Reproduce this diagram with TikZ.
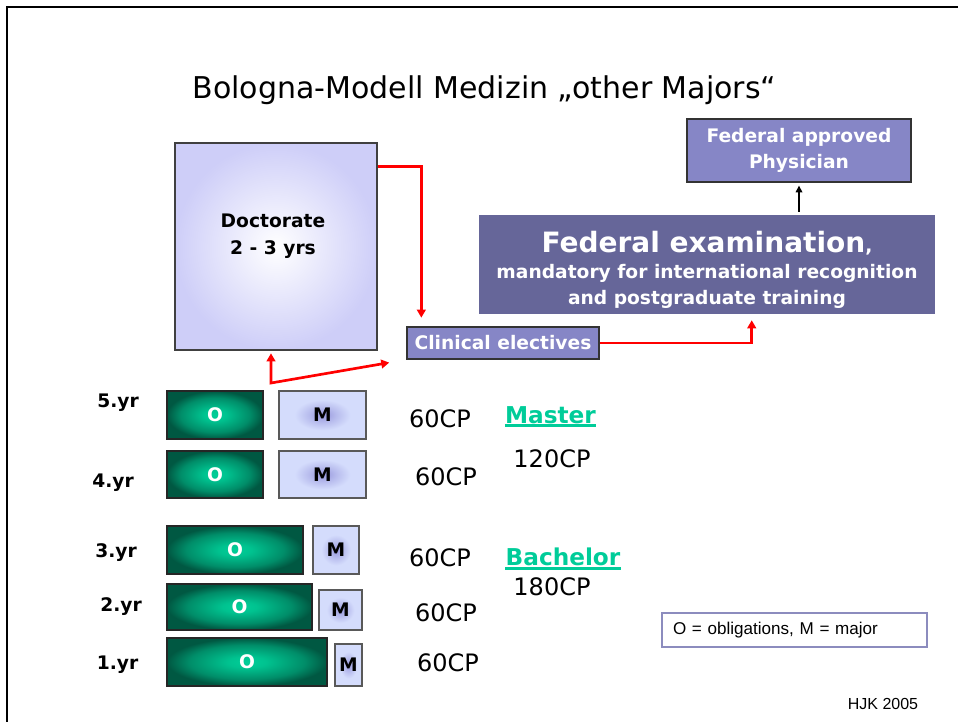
\documentclass[tikz,border=0pt]{standalone}
\usepackage{fontspec}
\setmainfont{DejaVu Sans}
\newfontfamily\arialfont{Liberation Sans}
\usetikzlibrary{arrows.meta, positioning, calc}
\newcommand{\pxl}{0.75pt}

\definecolor{lavbox}{RGB}{134,134,198}
\definecolor{exambox}{RGB}{102,102,153}
\definecolor{doclav}{RGB}{206,206,248}
\definecolor{odark}{RGB}{0,88,66}
\definecolor{olight}{RGB}{0,206,152}
\definecolor{mlight}{RGB}{212,220,252}
\definecolor{mdark}{RGB}{150,150,220}
\definecolor{bagreen}{RGB}{0,204,153}
\definecolor{legline}{RGB}{140,140,190}
\pgfdeclareradialshading{mshade}{\pgfpoint{0bp}{0bp}}{color(0bp)=(mdark); color(8bp)=(mdark!45!mlight); color(16bp)=(mlight); color(50bp)=(mlight)}
\pgfdeclareradialshading{oshade}{\pgfpoint{0bp}{0bp}}{color(0bp)=(olight); color(6bp)=(olight!90!odark); color(18bp)=(olight!45!odark); color(25bp)=(odark); color(50bp)=(odark)}

\begin{document}
\begin{tikzpicture}[x=0.75pt, y=-0.75pt,
        lavbx/.style={rectangle, draw=black!80, line width=1pt, fill=lavbox, text=white, align=center, font=\fontsize{14}{20}\selectfont\bfseries},
        obox/.style={rectangle, draw=black!85, line width=0.8pt, shade, shading=oshade, text=white, font=\fontsize{14}{16}\selectfont\bfseries},
        mbox/.style={rectangle, draw=black!65, line width=0.8pt, shade, shading=mshade, font=\fontsize{14}{16}\selectfont\bfseries},
        yr/.style={font=\fontsize{14}{16}\selectfont\bfseries},
        cp/.style={font=\fontsize{18}{20}\selectfont},
        degtxt/.style={inner sep=0pt, text=bagreen, font=\fontsize{17.4}{20}\selectfont\bfseries},
        redarr/.style={draw=red, line width=2pt, -{Triangle[length=6pt, width=6.5pt]}}]
        \useasboundingbox (0,0) rectangle (958,722);

        % Rahmen und Titel
        \draw[line width=1.9pt] (7,722) -- (7,7) -- (958,7);
        \node[font=\fontsize{22.5}{26}\selectfont] (titel) at (484.5,90) {Bologna-Modell Medizin „other Majors“};

        % Doktorat
        \node[rectangle, draw=black!75, line width=1pt, inner color=white, outer color=doclav,
              minimum width=202*\pxl, minimum height=207*\pxl] (doc) at (276,246.5) {};
        \node[align=center, font=\fontsize{14}{20}\selectfont\bfseries] (doctxt) at (273,236) {Doctorate\\2 - 3 yrs};

        % Staatsexamen, Arzt, Wahlfach
        \node[lavbx, minimum width=224*\pxl, minimum height=63*\pxl] (appr) at (799,150.5) {Federal approved\\Physician};
        \node[rectangle, fill=exambox, minimum width=456*\pxl, minimum height=99*\pxl] (exam) at (707,264.5) {};
        \node[align=center, text=white, font=\fontsize{14}{19.5}\selectfont\bfseries] (examtxt) at (707,270)
            {{\fontsize{21}{26}\selectfont Federal examination},\\mandatory for international recognition\\and postgraduate training};
        \node[lavbx, minimum width=192*\pxl, minimum height=32*\pxl, inner sep=0pt] (clin) at (503,343) {Clinical electives};

        % Jahre
        \node[yr] (y5) at (118,403) {5.yr};
        \node[obox, minimum width=96*\pxl, minimum height=48*\pxl] (o5) at (215,415) {O};
        \node[mbox, minimum width=87*\pxl, minimum height=48*\pxl] (m5) at (322.5,415) {M};
        \node[cp] (cp5) at (440,419) {60CP};

        \node[yr] (y4) at (113,483) {4.yr};
        \node[obox, minimum width=96*\pxl, minimum height=47*\pxl] (o4) at (215,474.5) {O};
        \node[mbox, minimum width=87*\pxl, minimum height=47*\pxl] (m4) at (322.5,474.5) {M};
        \node[cp] (cp4) at (446,477) {60CP};

        \node[yr] (y3) at (116,553) {3.yr};
        \node[obox, minimum width=136*\pxl, minimum height=48*\pxl] (o3) at (235,550) {O};
        \node[mbox, minimum width=46*\pxl, minimum height=48*\pxl] (m3) at (336,550) {M};
        \node[cp] (cp3) at (440,558) {60CP};

        \node[yr] (y2) at (121,607) {2.yr};
        \node[obox, minimum width=145*\pxl, minimum height=46*\pxl] (o2) at (239.5,607) {O};
        \node[mbox, minimum width=43*\pxl, minimum height=40*\pxl] (m2) at (340.5,610) {M};
        \node[cp] (cp2) at (446,613) {60CP};

        \node[yr] (y1) at (117.5,665) {1.yr};
        \node[obox, minimum width=160*\pxl, minimum height=48*\pxl] (o1) at (247,662) {O};
        \node[mbox, minimum width=27*\pxl, minimum height=42*\pxl, inner sep=0pt] (m1) at (348.5,665) {M};
        \node[cp] (cp1) at (448,663) {60CP};

        % Abschluesse
        \node[degtxt] (mst) at (550.5,415) {Master};
        \draw[bagreen, line width=2.3pt] ([yshift=-1.9pt]mst.base west) -- ([yshift=-1.9pt]mst.base east);
        \node[cp] (cpm) at (552,459) {120CP};
        \node[degtxt] (bac) at (563,557) {Bachelor};
        \draw[bagreen, line width=2.3pt] ([yshift=-1.9pt]bac.base west) -- ([yshift=-1.9pt]bac.base east);
        \node[cp] (cpb) at (552,587) {180CP};

        % Legende
        \node[rectangle, draw=legline, line width=0.8pt, text width=182.25pt, inner xsep=8.25pt,
              minimum height=25.5pt, align=left, font=\arialfont\fontsize{12.8}{15}\selectfont] (leg) at (794.5,630)
            {O = obligations, M = major};
        \node[font=\arialfont\fontsize{12}{14}\selectfont] (hjk) at (883,704) {HJK 2005};

        % Pfeile
        \draw[line width=0.9pt, -{Triangle[length=5pt, width=5pt]}, shorten <=2.25pt, shorten >=2.25pt]
            (appr.south |- exam.north) -- (appr.south);
        \draw[redarr, shorten >=6.5pt] ($(doc.north east)+(0,24)$) -| ($(clin.north west)+(15,0)$);
        \draw[redarr, shorten >=4.5pt] (clin.east) -| ($(exam.south west)+(273,0)$);
        \coordinate (fork) at (271,383);
        \draw[redarr, {Triangle[length=6pt, width=6.5pt]}-{Triangle[length=6pt, width=6.5pt]},
              shorten <=2pt, shorten >=13pt] (doc.south -| fork) -- (fork) -- (clin.south west);
\end{tikzpicture}
\end{document}
